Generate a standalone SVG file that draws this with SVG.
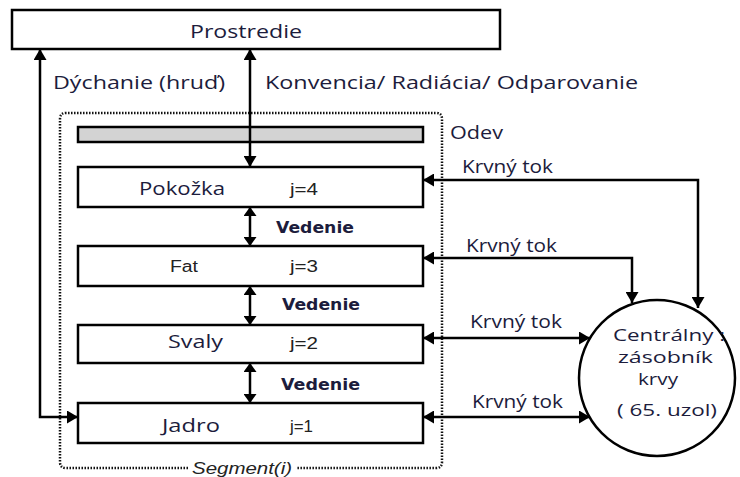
<svg xmlns="http://www.w3.org/2000/svg" width="740" height="477" viewBox="0 0 740 477">
<defs>
<marker id="ah" viewBox="0 0 11 13" refX="11" refY="6.5" markerWidth="11" markerHeight="13" markerUnits="userSpaceOnUse" orient="auto-start-reverse">
<path d="M0,0 L11,6.5 L0,13 z" fill="#000"/>
</marker>
<marker id="ahs" viewBox="0 0 9 13" refX="9" refY="6.5" markerWidth="9" markerHeight="13" markerUnits="userSpaceOnUse" orient="auto-start-reverse">
<path d="M0,0 L9,6.5 L0,13 z" fill="#000"/>
</marker>
</defs>
<style>
.box{fill:#fff;stroke:#000;stroke-width:2.5}
.lbl{font-family:"Open Sans","DejaVu Sans",sans-serif;font-size:18px;fill:#1c1c3c}
.cl{font-family:"Open Sans","DejaVu Sans",sans-serif;font-size:16px;fill:#1c1c3c}
.ar{font-family:"Liberation Sans",Arial,sans-serif;font-size:16px;fill:#222}
.ved{font-family:"DejaVu Sans",sans-serif;font-weight:bold;font-size:15px;fill:#1c1c3c}
.con{fill:none;stroke:#000;stroke-width:2.5;marker-start:url(#ah);marker-end:url(#ah)}
.vcon{fill:none;stroke:#000;stroke-width:2.5;marker-start:url(#ahs);marker-end:url(#ahs)}
</style>
<rect width="740" height="477" fill="#fff"/>

<g id="segment">
<path d="M188,468 H66 Q60,468 60,462 V119 Q60,113 66,113 H436 Q442,113 442,119 V462 Q442,468 436,468 H296" fill="none" stroke="#111" stroke-width="2.5" stroke-dasharray="1.5 1.5"/>
<text x="242" y="474" text-anchor="middle" font-family="Liberation Sans,Arial,sans-serif" font-style="italic" font-size="16" fill="#222" textLength="100" lengthAdjust="spacingAndGlyphs">Segment(i)</text>
</g>

<g id="prostredie">
<rect class="box" x="12" y="10" width="488" height="39"/>
<text class="lbl" x="190" y="38" textLength="112" lengthAdjust="spacingAndGlyphs">Prostredie</text>
</g>

<g id="odev">
<rect x="78" y="127" width="345" height="15" fill="#d3d3d3" stroke="#000" stroke-width="2.5"/>
<text class="lbl" x="450" y="139" textLength="53" lengthAdjust="spacingAndGlyphs">Odev</text>
</g>

<g id="pokozka">
<rect class="box" x="78" y="167" width="345" height="40"/>
<text class="lbl" x="139" y="195" textLength="86" lengthAdjust="spacingAndGlyphs">Pokožka</text>
<text class="ar" x="290" y="195" textLength="28" lengthAdjust="spacingAndGlyphs">j=4</text>
</g>

<g id="fat">
<rect class="box" x="78" y="246" width="345" height="40"/>
<text class="ar" x="170" y="272" textLength="28" lengthAdjust="spacingAndGlyphs">Fat</text>
<text class="ar" x="290" y="272" textLength="28" lengthAdjust="spacingAndGlyphs">j=3</text>
</g>

<g id="svaly">
<rect class="box" x="78" y="325" width="345" height="38"/>
<text class="lbl" x="168" y="348" textLength="55" lengthAdjust="spacingAndGlyphs">Svaly</text>
<text class="ar" x="290" y="349" textLength="28" lengthAdjust="spacingAndGlyphs">j=2</text>
</g>

<g id="jadro">
<rect class="box" x="78" y="403" width="345" height="40"/>
<text class="lbl" x="162" y="432" textLength="58" lengthAdjust="spacingAndGlyphs">Jadro</text>
<text class="ar" x="290" y="432" textLength="23" lengthAdjust="spacingAndGlyphs">j=1</text>
</g>

<g id="centralny">
<circle cx="657" cy="378" r="78" fill="#fff" stroke="#000" stroke-width="2.5"/>
<text class="cl" x="613" y="341" textLength="112" lengthAdjust="spacingAndGlyphs">Centrálny :</text>
<text class="cl" x="618" y="363" textLength="95" lengthAdjust="spacingAndGlyphs">zásobník</text>
<text class="cl" x="638" y="385" textLength="40" lengthAdjust="spacingAndGlyphs">krvy</text>
<text class="cl" x="617" y="416" textLength="100" lengthAdjust="spacingAndGlyphs">( 65. uzol)</text>
</g>

<g id="connectors">
<path class="con" d="M40,49 V417 H78"/>
<path class="con" d="M250,49 V167"/>
<path class="vcon" d="M250,207 V246"/>
<path class="vcon" d="M250,286 V325"/>
<path class="vcon" d="M250,363 V403"/>
<path class="con" d="M423,180 H698 V308"/>
<path class="con" d="M423,258 H632 V303"/>
<path class="con" d="M423,338 H590"/>
<path class="con" d="M423,417 H590"/>
<text class="lbl" x="53" y="89" textLength="172" lengthAdjust="spacingAndGlyphs">Dýchanie (hruď)</text>
<text class="lbl" x="265" y="89" textLength="373" lengthAdjust="spacingAndGlyphs">Konvencia/ Radiácia/ Odparovanie</text>
<text class="ved" x="276" y="233" textLength="78" lengthAdjust="spacingAndGlyphs">Vedenie</text>
<text class="ved" x="282" y="310" textLength="78" lengthAdjust="spacingAndGlyphs">Vedenie</text>
<text class="ved" x="281" y="390" textLength="79" lengthAdjust="spacingAndGlyphs">Vedenie</text>
<text class="lbl" x="462" y="173" textLength="91" lengthAdjust="spacingAndGlyphs">Krvný tok</text>
<text class="lbl" x="466" y="252" textLength="91" lengthAdjust="spacingAndGlyphs">Krvný tok</text>
<text class="lbl" x="470" y="328" textLength="92" lengthAdjust="spacingAndGlyphs">Krvný tok</text>
<text class="lbl" x="472" y="408" textLength="91" lengthAdjust="spacingAndGlyphs">Krvný tok</text>
</g>
</svg>
